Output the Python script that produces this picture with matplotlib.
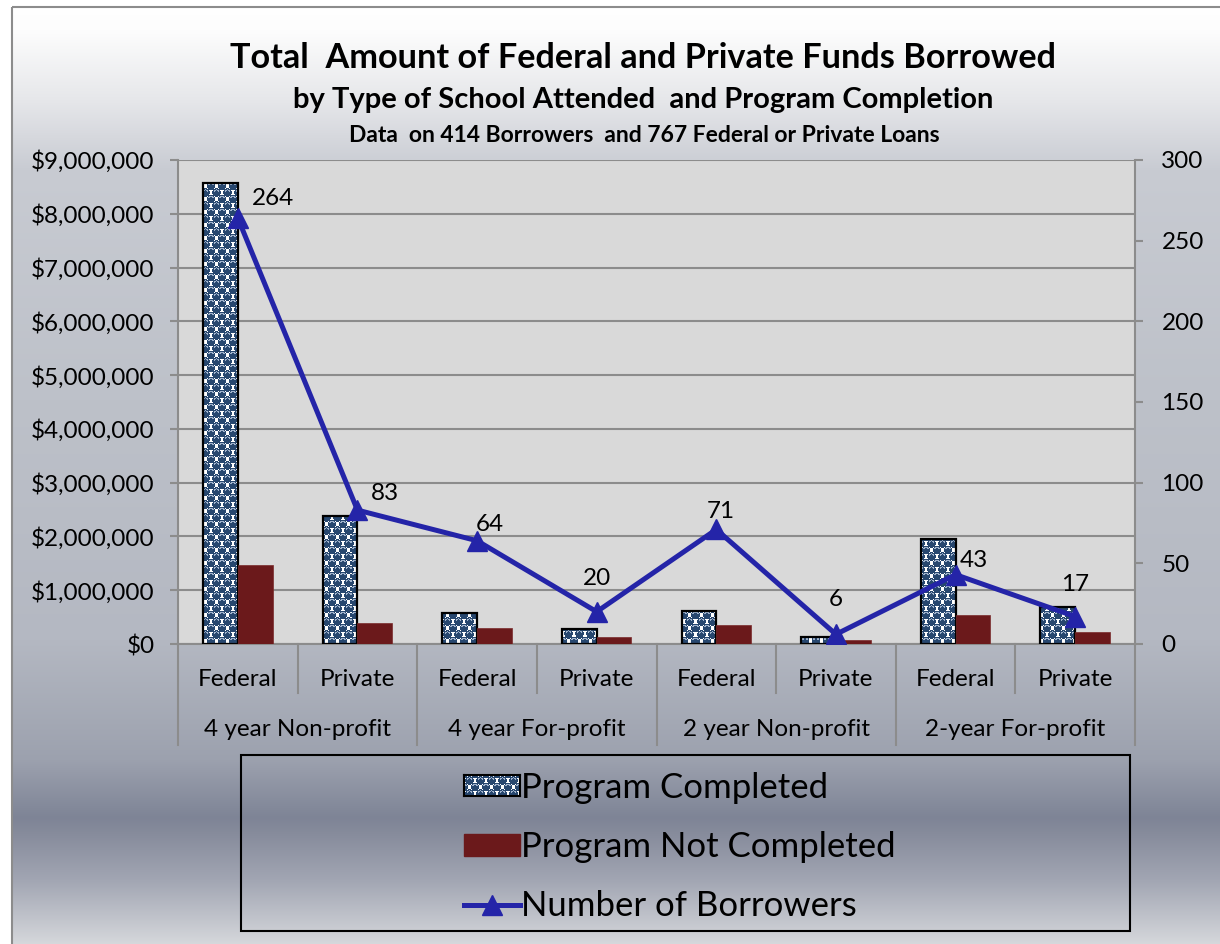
import numpy as np
import matplotlib
matplotlib.use("Agg")
import matplotlib.pyplot as plt
from matplotlib.patches import Rectangle, Patch
from matplotlib.lines import Line2D
import matplotlib.ticker as mticker

plt.rcParams['font.family'] = ['Lato', 'DejaVu Sans']

# ---- data -------------------------------------------------------------
school_types = ["4 year Non-profit", "4 year For-profit",
                "2 year Non-profit", "2-year For-profit"]
loan_types = ["Federal", "Private"]
completed = [8570000, 2380000, 570000, 280000, 610000, 135000, 1950000, 680000]
not_completed = [1470000, 390000, 290000, 135000, 360000, 70000, 545000, 220000]
borrowers = [264, 83, 64, 20, 71, 6, 43, 17]
money_ticks = [0, 1000000, 2000000, 3000000, 4000000, 5000000,
               6000000, 7000000, 8000000, 9000000]
count_ticks = [0, 50, 100, 150, 200, 250, 300]

title_lines = ["Total  Amount of Federal and Private Funds Borrowed",
               "by Type of School Attended  and Program Completion",
               "Data  on 414 Borrowers  and 767 Federal or Private Loans"]
series_names = ["Program Completed", "Program Not Completed", "Number of Borrowers"]

# label offsets (points) for the borrower counts
label_offsets = [(25, 14), (20, 12), (9, 12), (0, 24), (3, 13), (0, 25), (13, 10), (0, 23)]

NAVY = "#27476f"
MAROON = "#6b191b"
LINE_BLUE = "#2424a8"
GRID = "#8c8c8c"
TICK_FS = 17.5

W, H = 1220, 944
fig = plt.figure(figsize=(W / 100, H / 100), dpi=100)
fig.patch.set_facecolor("white")


def fx(px):
    return px / W


def fy(py):
    return 1 - py / H


# ---- chart background gradient ---------------------------------------
stops_y = [0, 30, 100, 170, 400, 640, 760, 817, 832, 880, 944]
stops_c = ["#ffffff", "#fdfdfd", "#e6e7ea", "#c8cbd2", "#bdc1c9", "#b4b8c2",
           "#9ca1ae", "#7e8496", "#868b9b", "#a2a6b3", "#d6d8dc"]
rgb = np.array([matplotlib.colors.to_rgb(c) for c in stops_c])
ys = np.arange(H)
grad = np.stack([np.interp(ys, stops_y, rgb[:, k]) for k in range(3)], axis=-1)
grad = grad[:, None, :]

bg = fig.add_axes([0, 0, 1, 1], zorder=-10)
bg.set_xlim(0, W)
bg.set_ylim(H, 0)
bg.axis("off")
im_bg = bg.imshow(grad, extent=[0, W, H, 0], aspect="auto", interpolation="bilinear")
clip_rect = Rectangle((12, 7), W + 20, H + 20, transform=bg.transData)
im_bg.set_clip_path(clip_rect)
bg.add_patch(Rectangle((12, 7), W + 20, H + 20, fill=False, ec="#8c8c8c", lw=1.5))
bg.set_xlim(0, W)
bg.set_ylim(H, 0)


# ---- fill texture for the completed bars ------------------------------
def circle_texture(h, w, px=11.0, py=13.0, r=4.3):
    yy, xx = np.mgrid[0:h, 0:w].astype(float) + 0.5
    dxa = ((xx + px / 2) % px) - px / 2
    dya = ((yy + py / 2) % py) - py / 2
    dxb = (xx % px) - px / 2
    dyb = (yy % py) - py / 2
    da = np.hypot(dxa, dya)
    db = np.hypot(dxb, dyb)
    use_a = da < db
    d = np.where(use_a, da, db)
    dy = np.where(use_a, dya, dyb)
    img = np.ones((h, w, 3))
    navy = np.array(matplotlib.colors.to_rgb(NAVY))
    light = np.array(matplotlib.colors.to_rgb("#9fb2cc"))
    inside = d <= r
    img[inside] = navy
    arc = inside & (d > 2.0) & (d < 3.1) & (dy < -0.8)
    img[arc] = light
    return img


# ---- main axes --------------------------------------------------------
ax_l, ax_r, ax_t, ax_b = 178, 1135, 160, 644
ax = fig.add_axes([fx(ax_l), fy(ax_b), fx(ax_r - ax_l), (ax_b - ax_t) / H])
ax.set_facecolor("#d9d9d9")
n = len(completed)
x = np.arange(n)
bw = 0.29

ax.set_xlim(-0.5, n - 0.5)
ax.set_ylim(0, 9000000)
ax.set_yticks(money_ticks)
ax.yaxis.set_major_formatter(mticker.FuncFormatter(lambda v, p: "${:,.0f}".format(v)))
ax.yaxis.grid(True, color=GRID, lw=1.5)
ax.set_axisbelow(True)
ax.set_xticks([])
for side in ["left", "right", "bottom"]:
    ax.spines[side].set_color(GRID)
    ax.spines[side].set_linewidth(1.5)
ax.spines["top"].set_visible(False)
ax.tick_params(axis="y", direction="out", length=6, width=1.5, color=GRID,
               labelsize=TICK_FS, pad=11, labelcolor="black")

texture = circle_texture(ax_b - ax_t, ax_r - ax_l)
bars_c = ax.bar(x - bw / 2, completed, bw, facecolor="none", edgecolor="black",
                lw=1.6, zorder=3)
for b in bars_c:
    im = ax.imshow(texture, extent=(-0.5, n - 0.5, 0, 9000000), aspect="auto",
                   interpolation="nearest", zorder=2, origin="upper")
    im.set_clip_path(b)
ax.bar(x + bw / 2, not_completed, bw, color=MAROON, edgecolor="#7a2a2a", lw=0.5, zorder=3)
ax.set_xlim(-0.5, n - 0.5)
ax.set_ylim(0, 9000000)

# two-level category axis
sub_depth = -(693 - ax_b) / (ax_b - ax_t)
grp_depth = -(745 - ax_b) / (ax_b - ax_t)
trans = ax.get_xaxis_transform()
for i in range(n + 1):
    xb = i - 0.5
    depth = grp_depth if i % 2 == 0 else sub_depth
    ax.plot([xb, xb], [0, depth], transform=trans, color=GRID, lw=1.5,
            clip_on=False, zorder=1)
lab1_y = -(679 - ax_b) / (ax_b - ax_t)
lab2_y = -(730 - ax_b) / (ax_b - ax_t)
for i in range(n):
    ax.text(i, lab1_y, loan_types[i % 2], transform=trans, ha="center",
            va="center", fontsize=TICK_FS)
for g, name in enumerate(school_types):
    ax.text(2 * g + 0.5, lab2_y, name, transform=trans, ha="center",
            va="center", fontsize=TICK_FS)

# secondary axis with borrower counts
ax2 = ax.twinx()
ax2.set_ylim(0, 300)
ax2.set_yticks(count_ticks)
for side in ["left", "right", "bottom", "top"]:
    ax2.spines[side].set_visible(False)
ax2.tick_params(axis="y", direction="out", length=6, width=1.5, color=GRID,
                labelsize=TICK_FS, pad=13)
ax2.plot(x, borrowers, color=LINE_BLUE, lw=3.6, marker="^", ms=15,
         markeredgecolor=LINE_BLUE, zorder=5)
for i, v in enumerate(borrowers):
    ax2.annotate(str(v), (i, v), xytext=label_offsets[i], textcoords="offset points",
                 ha="center", va="center", fontsize=TICK_FS)

# ---- titles -----------------------------------------------------------
fig.text(fx(643), fy(58), title_lines[0], ha="center", va="center",
         fontsize=24.7, fontweight="bold")
fig.text(fx(643), fy(100), title_lines[1], ha="center", va="center",
         fontsize=21, fontweight="bold")
fig.text(fx(644), fy(136), title_lines[2], ha="center", va="center",
         fontsize=16.5, fontweight="bold")

# ---- legend -----------------------------------------------------------
bg.add_patch(Rectangle((241, 755), 889, 176, fill=False, ec="black", lw=1.5))
handles = [Patch(facecolor="none", edgecolor="none"),
           Patch(facecolor=MAROON, edgecolor=MAROON),
           Line2D([], [], color=LINE_BLUE, lw=3.6, marker="^", ms=15)]
leg = fig.legend(handles, series_names, loc="center",
                 bbox_to_anchor=(fx(680), fy(847)), frameon=False, fontsize=25,
                 handlelength=1.6, handleheight=0.58, handletextpad=0.05,
                 labelspacing=0.78)

fig.canvas.draw()
hb = leg.legend_handles[0].get_window_extent()
hx0, hy0 = hb.x0 / W, hb.y0 / H
hax = fig.add_axes([hx0, hy0, hb.width / W, hb.height / H], zorder=6)
hax.imshow(circle_texture(max(int(round(hb.height)), 2), max(int(round(hb.width)), 2)),
           aspect="auto", interpolation="nearest")
hax.set_xticks([])
hax.set_yticks([])
for s in hax.spines.values():
    s.set_color("black")
    s.set_linewidth(1.5)

fig.savefig("out.png", dpi=100)
